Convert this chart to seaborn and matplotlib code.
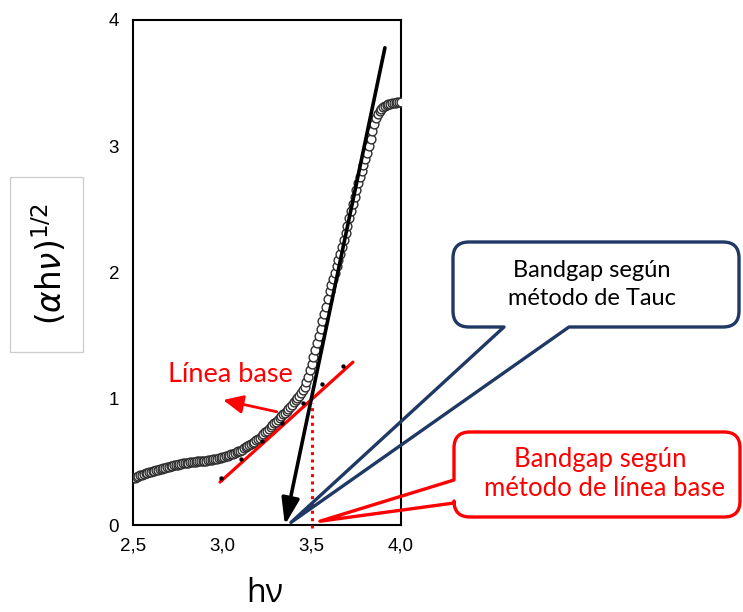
import numpy as np
import pandas as pd
import matplotlib
matplotlib.use("Agg")
import matplotlib.pyplot as plt
import seaborn as sns
from matplotlib.path import Path
from matplotlib.patches import PathPatch, Rectangle
from matplotlib.ticker import FixedLocator, MultipleLocator, FuncFormatter

# ---------------------------------------------------------------- data
# photon energy (eV)
hv = [
    2.50, 2.51, 2.52, 2.53, 2.54, 2.55, 2.56, 2.57, 2.58, 2.59,
    2.60, 2.61, 2.62, 2.63, 2.64, 2.65, 2.66, 2.67, 2.68, 2.69,
    2.70, 2.71, 2.72, 2.73, 2.74, 2.75, 2.76, 2.77, 2.78, 2.79,
    2.80, 2.81, 2.82, 2.83, 2.84, 2.85, 2.86, 2.87, 2.88, 2.89,
    2.90, 2.91, 2.92, 2.93, 2.94, 2.95, 2.96, 2.97, 2.98, 2.99,
    3.00, 3.01, 3.02, 3.03, 3.04, 3.05, 3.06, 3.07, 3.08, 3.09,
    3.10, 3.11, 3.12, 3.13, 3.14, 3.15, 3.16, 3.17, 3.18, 3.19,
    3.20, 3.21, 3.22, 3.23, 3.24, 3.25, 3.26, 3.27, 3.28, 3.29,
    3.30, 3.31, 3.32, 3.33, 3.34, 3.35, 3.36, 3.37, 3.38, 3.39,
    3.40, 3.41, 3.42, 3.43, 3.44, 3.45, 3.46, 3.47, 3.48, 3.49,
    3.50, 3.51, 3.52, 3.53, 3.54, 3.55, 3.56, 3.57, 3.58, 3.59,
    3.60, 3.61, 3.62, 3.63, 3.64, 3.65, 3.66, 3.67, 3.68, 3.69,
    3.70, 3.71, 3.72, 3.73, 3.74, 3.75, 3.76, 3.77, 3.78, 3.79,
    3.80, 3.81, 3.82, 3.83, 3.84, 3.85, 3.86, 3.87, 3.88, 3.89,
    3.90, 3.91, 3.92, 3.93, 3.94, 3.95, 3.96, 3.97, 3.98, 3.99,
    4.00,
]

# Tauc ordinate (alpha*h*nu)^(1/2)
tauc = [
    0.370, 0.376, 0.382, 0.388, 0.394, 0.400, 0.404, 0.408, 0.412, 0.416,
    0.420, 0.424, 0.428, 0.432, 0.436, 0.440, 0.444, 0.448, 0.452, 0.456,
    0.460, 0.464, 0.468, 0.472, 0.476, 0.479, 0.482, 0.485, 0.488, 0.490,
    0.492, 0.494, 0.496, 0.498, 0.500, 0.502, 0.503, 0.504, 0.505, 0.506,
    0.508, 0.510, 0.512, 0.514, 0.516, 0.519, 0.522, 0.526, 0.530, 0.534,
    0.538, 0.542, 0.546, 0.550, 0.554, 0.559, 0.564, 0.570, 0.576, 0.583,
    0.590, 0.598, 0.606, 0.614, 0.622, 0.631, 0.640, 0.650, 0.660, 0.670,
    0.681, 0.693, 0.706, 0.720, 0.734, 0.748, 0.762, 0.776, 0.790, 0.804,
    0.818, 0.832, 0.846, 0.861, 0.876, 0.891, 0.906, 0.922, 0.938, 0.954,
    0.971, 0.988, 1.006, 1.025, 1.046, 1.068, 1.095, 1.130, 1.175, 1.225,
    1.278, 1.332, 1.387, 1.442, 1.498, 1.555, 1.612, 1.670, 1.728, 1.790,
    1.850, 1.900, 1.950, 2.000, 2.050, 2.100, 2.150, 2.200, 2.255, 2.310,
    2.370, 2.430, 2.490, 2.545, 2.600, 2.655, 2.705, 2.755, 2.805, 2.850,
    2.900, 2.950, 3.000, 3.060, 3.120, 3.175, 3.220, 3.255, 3.280, 3.298,
    3.310, 3.320, 3.326, 3.332, 3.337, 3.341, 3.344, 3.346, 3.348, 3.349,
    3.350,
]

# baseline fit: sampled points and fitted segment
base_pts_x = [2.99, 3.105, 3.22, 3.335, 3.45, 3.56, 3.675]
base_pts_y = [0.37, 0.52, 0.665, 0.81, 0.965, 1.115, 1.26]
base_line_x = [2.987, 3.731]
base_line_y = [0.34, 1.29]

# Tauc linear extrapolation (top end -> intercept)
tauc_top = (3.91, 3.78)
gap_tauc = 3.35

# baseline-method bandgap marker
gap_base = 3.50
gap_base_top = 0.97

x_ticks = [2.5, 3.0, 3.5, 4.0]
y_ticks = [0, 1, 2, 3, 4]

curve = pd.DataFrame({"hv": hv, "tauc": tauc})
base_pts = pd.DataFrame({"x": base_pts_x, "y": base_pts_y})
base_seg = pd.DataFrame({"x": base_line_x, "y": base_line_y})

# ---------------------------------------------------------------- style
sns.set_theme(style="white")
plt.rcParams["font.family"] = ["Liberation Sans", "DejaVu Sans"]
plt.rcParams["mathtext.fontset"] = "dejavusans"

NAVY = "#1F3864"
RED = "#FF0000"
W, H = 743, 612

fig = plt.figure(figsize=(W / 100, H / 100), dpi=100)
fig.patch.set_facecolor("white")
ax = fig.add_axes([133 / W, 1 - 525 / H, (401 - 133) / W, (525 - 20) / H])
ax.set_facecolor("white")

# measured curve
sns.scatterplot(data=curve, x="hv", y="tauc", ax=ax, marker="o", s=40,
                facecolor="white", edgecolor="#2e2e2e", linewidth=1.0,
                zorder=3, legend=False)

# baseline fit
sns.lineplot(data=base_seg, x="x", y="y", ax=ax, color=RED, lw=2.3,
             zorder=4, legend=False)
sns.scatterplot(data=base_pts, x="x", y="y", ax=ax, color="black", s=10,
                linewidth=0, zorder=5, legend=False)

# Tauc extrapolation arrow
ax.annotate("", xy=(gap_tauc, 0.0), xytext=tauc_top,
            arrowprops=dict(arrowstyle="-|>,head_length=0.8,head_width=0.27",
                            mutation_scale=20, lw=2.6, color="black",
                            shrinkA=0, shrinkB=0),
            zorder=6, annotation_clip=False)

# dotted drop line at the baseline bandgap
ax.plot([gap_base, gap_base], [-0.02, gap_base_top], color=RED, lw=2.2,
        linestyle=(0, (1.0, 1.4)), zorder=6, clip_on=False)

# "Línea base" label with arrow
ax.annotate("", xy=(3.005, 0.99), xytext=(3.304, 0.897),
            arrowprops=dict(arrowstyle="-|>,head_length=0.6,head_width=0.28",
                            mutation_scale=20, lw=2.0, color=RED,
                            shrinkA=0, shrinkB=0), zorder=6)
ax.text(3.043, 1.19, "Línea base", color=RED, fontsize=19.5, family="Lato",
        ha="center", va="center", zorder=6)

# axes cosmetics
ax.set_xlim(2.5, 4.0)
ax.set_ylim(0, 4)
ax.set_xlabel("")
ax.set_ylabel("")
ax.xaxis.set_major_locator(FixedLocator(x_ticks))
ax.xaxis.set_minor_locator(MultipleLocator(0.1))
ax.yaxis.set_major_locator(FixedLocator(y_ticks))
ax.yaxis.set_minor_locator(MultipleLocator(0.5))
ax.xaxis.set_major_formatter(FuncFormatter(lambda v, _: f"{v:.1f}".replace(".", ",")))
ax.yaxis.set_major_formatter(FuncFormatter(lambda v, _: f"{v:.0f}"))
ax.tick_params(which="major", direction="in", length=7, width=1.5,
               labelsize=13.5, colors="black", top=False, right=False)
ax.tick_params(axis="x", which="major", pad=9)
ax.tick_params(axis="y", which="major", pad=10)
ax.tick_params(which="minor", direction="in", length=3.5, width=1.2,
               top=False, right=False)
for sp in ax.spines.values():
    sp.set_linewidth(1.5)
    sp.set_color("black")
    sp.set_visible(True)

# ---------------------------------------------------------------- overlay (pixel space)
ov = fig.add_axes([0, 0, 1, 1], zorder=10)
ov.set_xlim(0, W)
ov.set_ylim(H, 0)
ov.axis("off")
ov.patch.set_alpha(0)


def to_px(x, y):
    px, py = ax.transData.transform((x, y))
    return px, H - py


def rounded_callout(x0, y0, x1, y1, r, side, t1, t2, apex):
    P, L, C = Path.MOVETO, Path.LINETO, Path.CURVE3
    v, c = [], []

    def add(pt, code):
        v.append(pt)
        c.append(code)

    if side == "bottom":
        add((t2, y1), P)
        add((x1 - r, y1), L)
        add((x1, y1), C); add((x1, y1 - r), C)
        add((x1, y0 + r), L)
        add((x1, y0), C); add((x1 - r, y0), C)
        add((x0 + r, y0), L)
        add((x0, y0), C); add((x0, y0 + r), C)
        add((x0, y1 - r), L)
        add((x0, y1), C); add((x0 + r, y1), C)
        add((t1, y1), L)
        add(apex, L)
        add((t2, y1), L)
    else:  # tail on the left edge
        add((x0, t2), P)
        add((x0, y1 - r), L)
        add((x0, y1), C); add((x0 + r, y1), C)
        add((x1 - r, y1), L)
        add((x1, y1), C); add((x1, y1 - r), C)
        add((x1, y0 + r), L)
        add((x1, y0), C); add((x1 - r, y0), C)
        add((x0 + r, y0), L)
        add((x0, y0), C); add((x0, y0 + r), C)
        add((x0, t1), L)
        add(apex, L)
        add((x0, t2), L)
    v.append(v[0]); c.append(Path.CLOSEPOLY)
    return Path(v, c)


# Tauc callout
apex_tauc = to_px(3.384, 0.02)
ov.add_patch(PathPatch(rounded_callout(453, 242, 739, 327, 16, "bottom",
                                       504, 569, apex_tauc),
                       facecolor="none", edgecolor=NAVY, lw=2.4,
                       joinstyle="round"))
ov.text(592, 277, "Bandgap según", ha="center", va="baseline",
        fontsize=17, family="Lato", color="black")
ov.text(592, 305, "método de Tauc", ha="center", va="baseline",
        fontsize=17, family="Lato", color="black")

# baseline callout
apex_base = to_px(3.546, 0.03)
ov.add_patch(PathPatch(rounded_callout(454, 432, 740, 517, 16, "left",
                                       480, 503, apex_base),
                       facecolor="none", edgecolor=RED, lw=2.4,
                       joinstyle="round"))
ov.text(600, 467, "Bandgap según", ha="center", va="baseline",
        fontsize=18.5, family="Lato", color=RED)
ov.text(604, 496, "método de línea base", ha="center", va="baseline",
        fontsize=18.5, family="Lato", color=RED)

# y-axis title in a framed box
ov.add_patch(Rectangle((10, 177), 73, 175, facecolor="white",
                       edgecolor="#cccccc", lw=0.9))
ov.text(49.5, 264, r"$(\alpha\mathrm{h}\nu)^{1/2}$", rotation=90,
        ha="center", va="center", fontsize=23.5, color="black")

# x-axis title
ov.text(265, 602, "hν", ha="center", va="baseline", fontsize=23,
        family="Open Sans", color="black")

fig.savefig("out.png", dpi=100, facecolor="white")
